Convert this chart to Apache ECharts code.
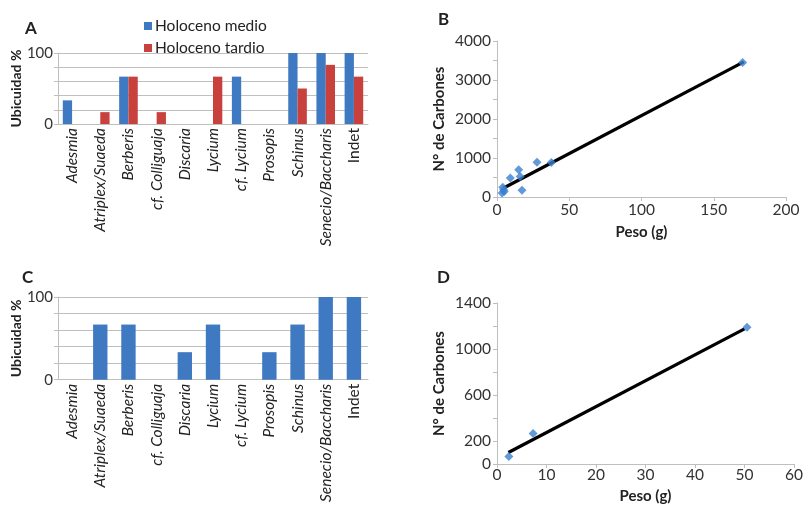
<!DOCTYPE html>
<html>
<head>
<meta charset="utf-8">
<script src="https://cdn.jsdelivr.net/npm/echarts@6/dist/echarts.min.js"></script>
<style>html,body{margin:0;padding:0;background:#fff;}#c{width:806px;height:505px;}</style>
</head>
<body>
<div id="c"></div>
<script>
// ---- data ----
const categories = ['Adesmia','Atriplex/Suaeda','Berberis','cf. Colliguaja','Discaria','Lycium','cf. Lycium','Prosopis','Schinus','Senecio/Baccharis','Indet'];
const holocenoMedioA = [33.3, 0, 66.7, 0, 0, 0, 66.7, 0, 100, 100, 100];
const holocenoTardioA = [0, 16.7, 66.7, 16.7, 0, 66.7, 0, 0, 50, 83.3, 66.7];
const ubicuidadC = [0, 66.7, 66.7, 0, 33.3, 66.7, 0, 33.3, 66.7, 100, 100];
const barTicks = [0, 100];

const pesoB = [3.5, 4.6, 4.0, 5.0, 9.2, 15, 16, 17.3, 27.7, 37.6, 170];
const carbonesB = [102, 186, 250, 140, 485, 697, 526, 170, 894, 885, 3450];
const trendPesoB = [4.6, 170.8];
const trendCarbonesB = [230, 3464];
const r2B = 'R² = 0,98';

const pesoD = [2.4, 7.3, 50.5];
const carbonesD = [65, 265, 1190];
const trendPesoD = [2.3, 50];
const trendCarbonesD = [100, 1175];
const r2D = 'R² = 0,9951';
const ticksD = [0, 200, 600, 1000, 1400];

// ---- style ----
const FONT = 'Lato';
const BLUE = '#3F79C2';
const RED = '#C8413D';
const PT = '#3A7FD0';
const GRAY = '#BFBFBF';
const TXT = '#333';

function pairs(xs, ys){ return xs.map((x,i)=>[x, ys[i]]); }

function catAxis(gi){
  return {
    type:'category', gridIndex:gi, data:categories,
    axisLine:{lineStyle:{color:GRAY}},
    axisTick:{show:false},
    axisLabel:{
      rotate:90, margin:4, interval:0,
      formatter: v => v === 'Indet' ? '{n|' + v + '}' : '{i|' + v + '}',
      rich:{
        i:{fontFamily:FONT, fontStyle:'italic', fontSize:15.5, color:'#222'},
        n:{fontFamily:FONT, fontSize:15.5, color:'#222'}
      }
    }
  };
}
function barValAxis(gi){
  return {
    type:'value', gridIndex:gi, min:0, max:100, interval:20,
    name:'Ubicuidad %', nameLocation:'middle', nameGap:35,
    nameTextStyle:{fontFamily:FONT, fontWeight:'bold', fontSize:14, color:'#222'},
    axisLine:{show:true, lineStyle:{color:GRAY}},
    axisTick:{show:true, length:4, lineStyle:{color:GRAY}},
    splitLine:{lineStyle:{color:GRAY}},
    axisLabel:{fontFamily:FONT, fontSize:15, color:TXT, margin:5,
      formatter: v => barTicks.includes(v) ? String(v) : ''}
  };
}

const chart = echarts.init(document.getElementById('c'), null, {renderer:'canvas'});
chart.setOption({
  animation:false,
  backgroundColor:'#fff',
  title:[
    {text:'A', left:20, top:15, textStyle:{fontFamily:FONT, fontWeight:'bold', fontSize:17, color:'#222'}},
    {text:'B', left:433, top:6, textStyle:{fontFamily:FONT, fontWeight:'bold', fontSize:17, color:'#222'}},
    {text:'C', left:17, top:264, textStyle:{fontFamily:FONT, fontWeight:'bold', fontSize:17, color:'#222'}},
    {text:'D', left:432, top:264, textStyle:{fontFamily:FONT, fontWeight:'bold', fontSize:17, color:'#222'}}
  ],
  legend:{
    data:['Holoceno medio','Holoceno tardio'],
    orient:'vertical', left:139, top:13, itemWidth:8, itemHeight:8, itemGap:6,
    icon:'rect',
    textStyle:{fontFamily:FONT, fontSize:15.5, color:'#222', padding:[0,0,0,-2]}
  },
  grid:[
    {left:58, top:53, width:310, height:71},
    {left:58, top:297, width:310, height:87},
    {left:497, top:41, width:289, height:156},
    {left:497, top:303, width:300, height:164}
  ],
  xAxis:[
    catAxis(0),
    catAxis(1),
    {type:'value', gridIndex:2, min:0, max:200, interval:50,
      name:'Peso (g)', nameLocation:'middle', nameGap:28,
      nameTextStyle:{fontFamily:FONT, fontWeight:'bold', fontSize:15, color:'#222'},
      axisLine:{lineStyle:{color:GRAY}}, axisTick:{length:4, lineStyle:{color:GRAY}},
      splitLine:{show:false},
      axisLabel:{fontFamily:FONT, fontSize:15.5, color:TXT, margin:5}},
    {type:'value', gridIndex:3, min:0, max:60, interval:10,
      name:'Peso (g)', nameLocation:'middle', nameGap:25,
      nameTextStyle:{fontFamily:FONT, fontWeight:'bold', fontSize:15, color:'#222'},
      axisLine:{lineStyle:{color:GRAY}}, axisTick:{length:4, lineStyle:{color:GRAY}},
      splitLine:{show:false},
      axisLabel:{fontFamily:FONT, fontSize:15.5, color:TXT, margin:3}}
  ],
  yAxis:[
    barValAxis(0),
    barValAxis(1),
    {type:'value', gridIndex:2, min:0, max:4000, interval:500,
      name:'N° de Carbones', nameLocation:'middle', nameGap:50,
      nameTextStyle:{fontFamily:FONT, fontWeight:'bold', fontSize:15, color:'#222'},
      axisLine:{show:true, lineStyle:{color:GRAY}}, axisTick:{show:true, length:4, lineStyle:{color:GRAY}},
      splitLine:{show:false},
      axisLabel:{fontFamily:FONT, fontSize:15.5, color:TXT, margin:6,
        formatter: v => v % 1000 === 0 ? String(v) : ''}},
    {type:'value', gridIndex:3, min:0, max:1400, interval:200,
      name:'N° de Carbones', nameLocation:'middle', nameGap:50,
      nameTextStyle:{fontFamily:FONT, fontWeight:'bold', fontSize:15, color:'#222'},
      axisLine:{show:true, lineStyle:{color:GRAY}}, axisTick:{show:true, length:4, lineStyle:{color:GRAY}},
      splitLine:{show:false},
      axisLabel:{fontFamily:FONT, fontSize:15.5, color:TXT, margin:6,
        formatter: v => ticksD.includes(v) ? String(v) : ''}}
  ],
  series:[
    {type:'bar', name:'Holoceno medio', xAxisIndex:0, yAxisIndex:0, data:holocenoMedioA,
      itemStyle:{color:BLUE}, barGap:'0%', barCategoryGap:'34%'},
    {type:'bar', name:'Holoceno tardio', xAxisIndex:0, yAxisIndex:0, data:holocenoTardioA,
      itemStyle:{color:RED}, barGap:'0%', barCategoryGap:'34%'},
    {type:'bar', name:'C', xAxisIndex:1, yAxisIndex:1, data:ubicuidadC,
      itemStyle:{color:BLUE}, barCategoryGap:'49%'},
    {type:'line', xAxisIndex:2, yAxisIndex:2, data:pairs(trendPesoB, trendCarbonesB).map((p,i,a)=> i===a.length-1 ? {value:p, label:{show:true, formatter:r2B, position:'left', distance:14, offset:[0,-5], fontFamily:FONT, fontSize:9, color:'#333'}} : p),
      symbol:'none', lineStyle:{color:'#000', width:3.2}, z:2},
    {type:'scatter', xAxisIndex:2, yAxisIndex:2, data:pairs(pesoB, carbonesB),
      symbol:'diamond', symbolSize:9, itemStyle:{color:PT}, z:3},
    {type:'line', xAxisIndex:3, yAxisIndex:3, data:pairs(trendPesoD, trendCarbonesD).map((p,i,a)=> i===a.length-1 ? {value:p, label:{show:true, formatter:r2D, position:'left', distance:22, offset:[0,-7], fontFamily:FONT, fontSize:10, color:'#333'}} : p),
      symbol:'none', lineStyle:{color:'#000', width:3.2}, z:2},
    {type:'scatter', xAxisIndex:3, yAxisIndex:3, data:pairs(pesoD, carbonesD),
      symbol:'diamond', symbolSize:9, itemStyle:{color:PT}, z:3}
  ]
});
</script>
</body>
</html>
